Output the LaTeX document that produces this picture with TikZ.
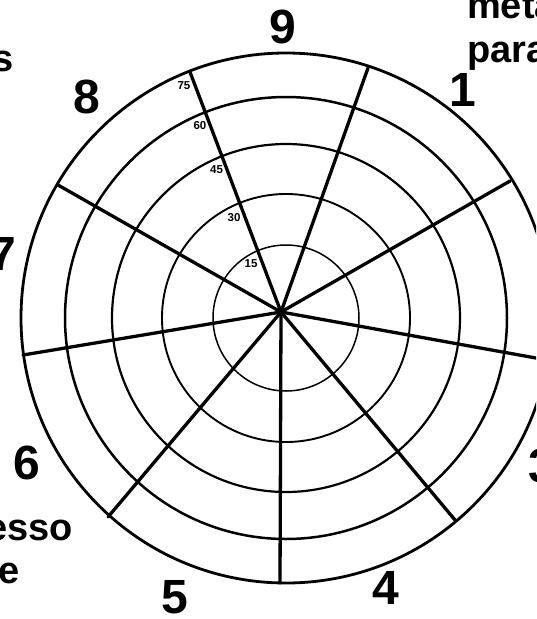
\documentclass[tikz,border=0pt]{standalone}
\usepackage{fontspec}
\setmainfont{Liberation Sans}
\begin{document}
\begin{tikzpicture}[x=1pt,y=-1pt,
  spoke/.style={line width=3.3pt},
  ring/.style={line width=#1},
  bignum/.style={font=\fontsize{48}{50}\selectfont\bfseries, inner sep=0pt},
  word/.style={font=\fontsize{38}{44}\selectfont\bfseries, inner sep=0pt},
  scalelbl/.style={font=\fontsize{11.5}{12}\selectfont\bfseries, inner sep=0pt}]
\useasboundingbox (0,0) rectangle (536,619);
\clip (0,0) rectangle (536,619);
\fill[white] (0,0) rectangle (536,619);
\coordinate (C) at (286,318);
\coordinate (O) at (281,312);
% rings
\draw[ring=1.5pt] (C) circle[radius=73pt];
\draw[ring=1.9pt] (C) circle[radius=124pt];
\draw[ring=2.2pt] (C) circle[radius=174pt];
\draw[ring=2.5pt] (C) circle[radius=221pt];
\draw[ring=2.8pt] (C) circle[radius=265pt];
% spoke ends
\coordinate (s89) at (190,72);
\coordinate (s91) at (368,68);
\coordinate (s12) at (510,181);
\coordinate (s23) at (547,360);
\coordinate (s34) at (455,520);
\coordinate (s45) at (280,583);
\coordinate (s56) at (108,517);
\coordinate (s67) at (23,355);
\coordinate (s78) at (58,185);
\foreach \e in {s89,s91,s12,s23,s34,s45,s56,s67,s78}
  \draw[spoke, line cap=round] (O) -- (\e);
% scale labels
\node[scalelbl] (l75) at (184,86) {75};
\node[scalelbl] (l60) at (200,126) {60};
\node[scalelbl] (l45) at (216.5,170) {45};
\node[scalelbl] (l30) at (234,217.5) {30};
\node[scalelbl] (l15) at (251,263.5) {15};
% sector numbers
\node[bignum] (n9) at (283,27) {9};
\node[bignum] (n1) at (463,90) {1};
\node[bignum] (n3) at (542,466) {3};
\node[bignum] (n4) at (386,588) {4};
\node[bignum] (n5) at (175,597) {5};
\node[bignum] (n6) at (27,463) {6};
\node[bignum] (n7) at (3,254) {7};
\node[bignum] (n8) at (87,97) {8};
% cut-off words
\node[word, anchor=base west] (wmeta) at (467,18) {meta};
\node[word, anchor=base west] (wpara) at (467,62) {para};
\node[word, anchor=base east] (ws) at (14,71) {s};
\node[word, anchor=base east] (wesso) at (73,540) {esso};
\node[word, anchor=base east] (we) at (20,583) {e};
\end{tikzpicture}
\end{document}
